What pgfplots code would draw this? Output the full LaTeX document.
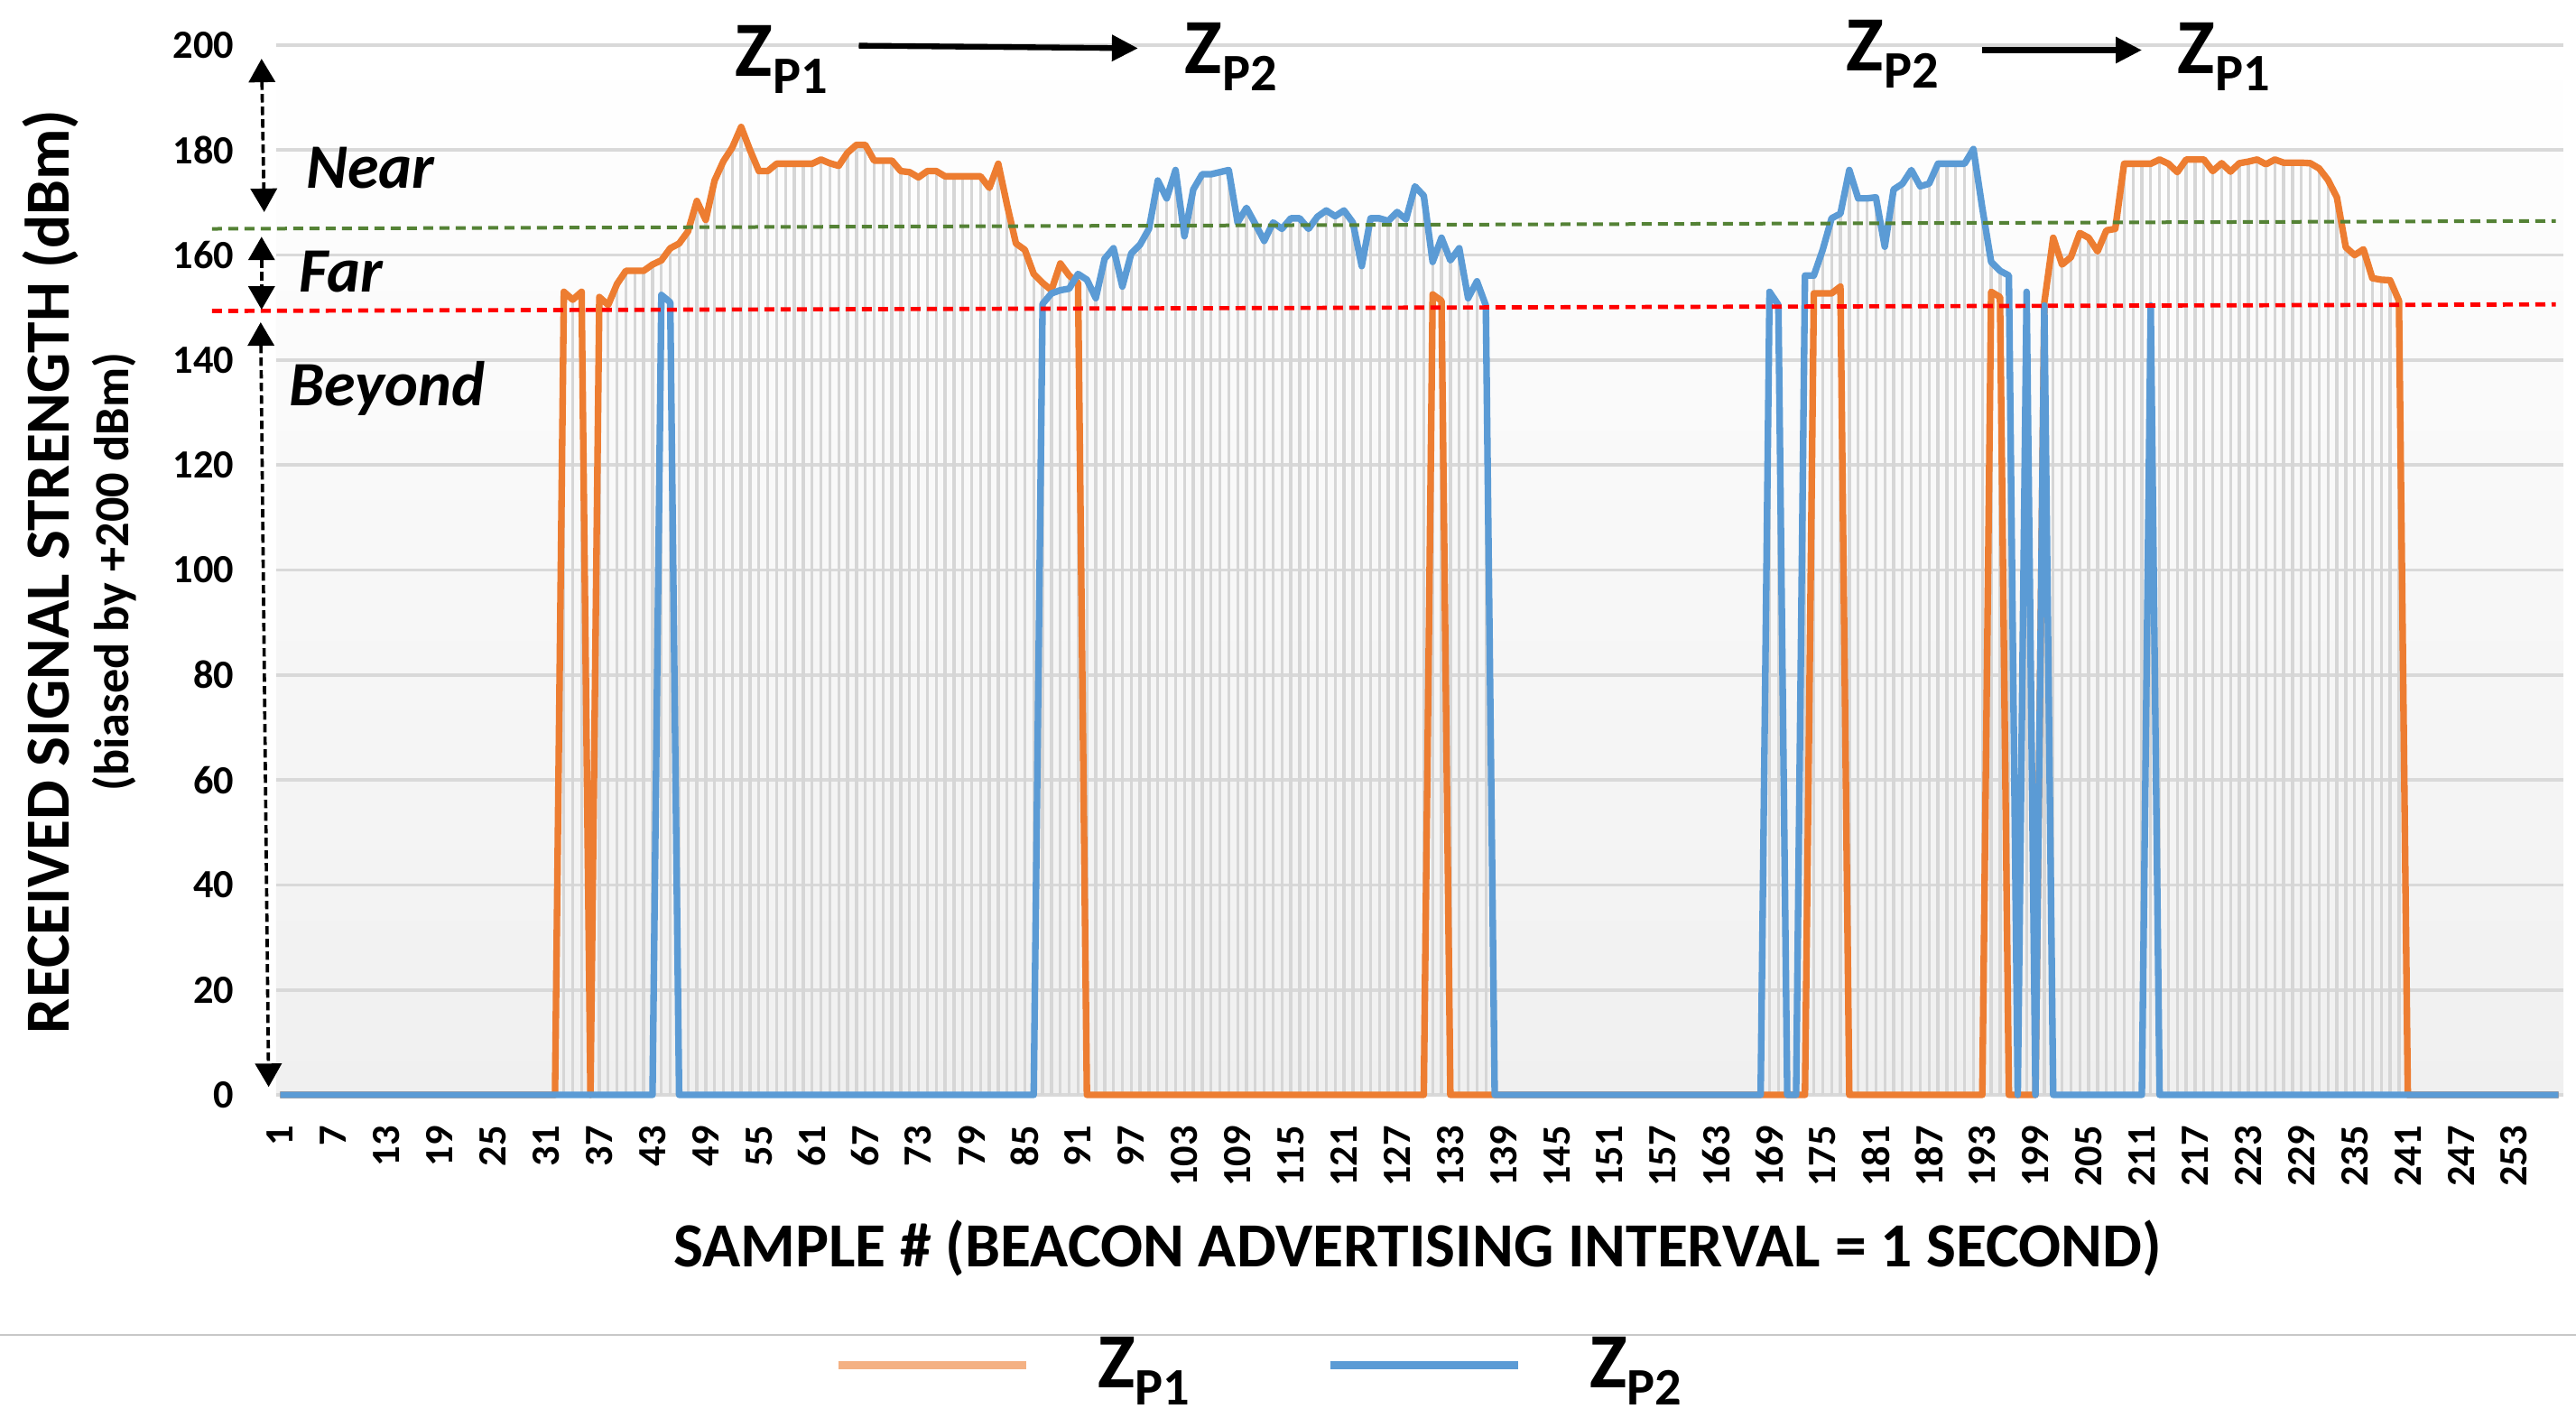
\documentclass[border=0pt]{standalone}
\usepackage{fontspec}
\setmainfont{Carlito}
\usepackage{graphicx}
\usepackage{pgfplots}
\pgfplotsset{compat=1.18}
\usepackage{pgfplotstable}
\usetikzlibrary{arrows.meta}

\definecolor{zorange}{RGB}{237,125,49}
\definecolor{zblue}{RGB}{91,155,213}
\definecolor{legorange}{RGB}{244,177,131}
\definecolor{thgreen}{RGB}{84,130,53}
\definecolor{thred}{RGB}{255,0,0}
\definecolor{gridgray}{RGB}{217,217,217}
\definecolor{dropgray}{RGB}{214,214,214}
\definecolor{bgbot}{RGB}{240,240,240}
\definecolor{sepgray}{RGB}{200,200,200}

\newcommand\ZP[1]{{\fontsize{26bp}{30bp}\selectfont\bfseries Z}\raisebox{-5.7bp}{\fontsize{17.5bp}{20bp}\selectfont\bfseries P#1}}

\pgfplotstableread{
s p1 p2
1 0 0
2 0 0
3 0 0
4 0 0
5 0 0
6 0 0
7 0 0
8 0 0
9 0 0
10 0 0
11 0 0
12 0 0
13 0 0
14 0 0
15 0 0
16 0 0
17 0 0
18 0 0
19 0 0
20 0 0
21 0 0
22 0 0
23 0 0
24 0 0
25 0 0
26 0 0
27 0 0
28 0 0
29 0 0
30 0 0
31 0 0
32 0 0
33 153 0
34 151.5 0
35 153 0
36 0 0
37 152 0
38 150.5 0
39 154.5 0
40 157 0
41 157 0
42 157 0
43 158.2 0
44 159 152.4
45 161.3 151
46 162.2 0
47 164.5 0
48 170.3 0
49 166.7 0
50 174.2 0
51 177.9 0
52 180.5 0
53 184.4 0
54 180 0
55 176 0
56 176 0
57 177.4 0
58 177.4 0
59 177.4 0
60 177.4 0
61 177.4 0
62 178.2 0
63 177.5 0
64 177 0
65 179.5 0
66 181 0
67 181 0
68 178 0
69 178 0
70 178 0
71 176 0
72 175.8 0
73 174.8 0
74 176 0
75 176 0
76 175 0
77 175 0
78 175 0
79 175 0
80 175 0
81 172.8 0
82 177.4 0
83 169.5 0
84 162.2 0
85 161 0
86 156.4 0
87 154.7 150.7
88 153.3 152.7
89 158.4 153.3
90 156.1 153.6
91 154.7 156.4
92 0 155.3
93 0 151.8
94 0 159.3
95 0 161.3
96 0 154
97 0 160.3
98 0 162
99 0 165
100 0 174.2
101 0 170.8
102 0 176.2
103 0 163.6
104 0 172.5
105 0 175.4
106 0 175.4
107 0 175.8
108 0 176.2
109 0 166.2
110 0 169
111 0 165.9
112 0 162.7
113 0 166.2
114 0 165
115 0 167
116 0 167
117 0 165
118 0 167.3
119 0 168.5
120 0 167.4
121 0 168.5
122 0 166.2
123 0 157.9
124 0 167
125 0 167
126 0 166.5
127 0 168.2
128 0 166.8
129 0 173.1
130 0 171.3
131 152.5 158.7
132 151.3 163.3
133 0 159
134 0 161.3
135 0 151.8
136 0 155
137 0 150.4
138 0 0
139 0 0
140 0 0
141 0 0
142 0 0
143 0 0
144 0 0
145 0 0
146 0 0
147 0 0
148 0 0
149 0 0
150 0 0
151 0 0
152 0 0
153 0 0
154 0 0
155 0 0
156 0 0
157 0 0
158 0 0
159 0 0
160 0 0
161 0 0
162 0 0
163 0 0
164 0 0
165 0 0
166 0 0
167 0 0
168 0 0
169 0 153
170 0 150.5
171 0 0
172 0 0
173 0 156.1
174 152.7 156.1
175 152.7 161
176 152.7 167
177 154 167.9
178 0 176.2
179 0 170.8
180 0 170.8
181 0 171
182 0 161.6
183 0 172.5
184 0 173.6
185 0 176.2
186 0 173.1
187 0 173.6
188 0 177.4
189 0 177.4
190 0 177.4
191 0 177.4
192 0 180.2
193 0 169
194 153 158.7
195 152 157
196 0 156.1
197 0 0
198 0 153
199 0 0
200 151 150.4
201 163.3 0
202 158.2 0
203 159.6 0
204 164.2 0
205 163.3 0
206 160.7 0
207 164.7 0
208 165 0
209 177.4 0
210 177.4 0
211 177.4 0
212 177.4 150.4
213 178.2 0
214 177.4 0
215 175.8 0
216 178.2 0
217 178.2 0
218 178.2 0
219 176 0
220 177.5 0
221 175.9 0
222 177.5 0
223 177.8 0
224 178.2 0
225 177.3 0
226 178.2 0
227 177.6 0
228 177.6 0
229 177.6 0
230 177.5 0
231 176.5 0
232 174.3 0
233 171 0
234 161.5 0
235 160 0
236 161.1 0
237 155.6 0
238 155.3 0
239 155.2 0
240 151.3 0
241 0 0
242 0 0
243 0 0
244 0 0
245 0 0
246 0 0
247 0 0
248 0 0
249 0 0
250 0 0
251 0 0
252 0 0
253 0 0
254 0 0
255 0 0
256 0 0
257 0 0
258 0 0
}\rssi

\begin{document}
\begin{tikzpicture}
\begin{axis}[
  scale only axis, width=760.2bp, height=348.9bp,
  xmin=0.55, xmax=258.55, ymin=0, ymax=200,
  clip=false,
  axis line style={draw=none},
  major tick length=0pt,
  ymajorgrids=true,
  grid style={draw=gridgray, line width=1.1bp},
  xtick={1,7,...,253},
  ytick={0,20,...,200},
  /pgf/number format/assume math mode=true,
  tick label style={font=\fontsize{13.3bp}{15bp}\selectfont\bfseries, inner sep=0pt},
  yticklabel style={anchor=east},
  xticklabel style={rotate=90, anchor=east},
  yticklabel shift=13.8bp,
  xticklabel shift=10.1bp,
  axis background/.style={top color=white, bottom color=bgbot},
  legend columns=2,
  legend style={at={(0.2439,-0.2549)}, anchor=west, draw=none, fill=none,
    inner sep=0pt, outer sep=0pt,
    nodes={inner sep=0pt, text depth=0pt, anchor=base west},
    /tikz/every odd column/.append style={column sep=22.5bp},
    /tikz/every even column/.append style={column sep=45.3bp}},
  legend image code/.code={\draw[#1] (0bp,7.5bp) -- (62.4bp,7.5bp);},
]
\addplot[ycomb, draw=dropgray, line width=1bp, forget plot] table[x=s,y=p1]{\rssi};
\addplot[ycomb, draw=dropgray, line width=1bp, forget plot] table[x=s,y=p2]{\rssi};
\addplot[zorange, line width=2.2bp, line join=round, mark=none, forget plot] table[x=s,y=p1]{\rssi};
\addplot[zblue, line width=2.2bp, line join=round, mark=none, forget plot] table[x=s,y=p2]{\rssi};
\addplot[thgreen, line width=1.2bp, dash pattern=on 3.3bp off 2.1bp, forget plot] coordinates {(-6.68,165.0) (257.7,166.5)};
\addplot[thred, line width=1.4bp, dash pattern=on 3.3bp off 2.1bp, forget plot] coordinates {(-6.68,149.35) (257.7,150.6)};

\addlegendimage{legorange, line width=2.7bp}
\addlegendentry{\ZP{1}}
\addlegendimage{zblue, line width=2.7bp}
\addlegendentry{\ZP{2}}

\coordinate (LL) at (rel axis cs:0,0);
\coordinate (UR) at (rel axis cs:1,1);

% axis titles
\node[rotate=90, inner sep=0pt] at (axis cs:-24.95,99.7) {\resizebox{307bp}{!}{\bfseries RECEIVED SIGNAL STRENGTH (dBm)}};
\node[rotate=90, inner sep=0pt] at (axis cs:-17.7,99.6) {\resizebox{145.8bp}{!}{\bfseries (biased by +200 dBm)}};
\node[inner sep=0pt] at (axis cs:129.3,-29.15) {\resizebox{494.7bp}{!}{\bfseries SAMPLE \# (BEACON ADVERTISING INTERVAL = 1 SECOND)}};

% zone labels
\node[inner sep=0pt, font=\fontsize{21bp}{24bp}\selectfont\bfseries\itshape] at (axis cs:11.2,176.6) {Near};
\node[inner sep=0pt, font=\fontsize{21bp}{24bp}\selectfont\bfseries\itshape] at (axis cs:7.84,156.8) {Far};
\node[inner sep=0pt, font=\fontsize{21bp}{24bp}\selectfont\bfseries\itshape] at (axis cs:13.07,134.5) {Beyond};

% zone arrows
\draw[black, line width=1.1bp, dash pattern=on 2.8bp off 1.4bp, {Triangle[length=7.8bp,width=8.7bp]}-{Triangle[length=7.8bp,width=8.7bp]}] (axis cs:-1.1,197.4) -- (axis cs:-0.8,168.2);
\draw[black, line width=1.1bp, dash pattern=on 2.8bp off 1.4bp, {Triangle[length=7.8bp,width=8.7bp]}-{Triangle[length=7.8bp,width=8.7bp]}] (axis cs:-1.1,163.5) -- (axis cs:-1.1,149.6);
\draw[black, line width=1.1bp, dash pattern=on 2.8bp off 1.4bp, {Triangle[length=7.8bp,width=8.7bp]}-{Triangle[length=7.8bp,width=8.7bp]}] (axis cs:-1.2,147.2) -- (axis cs:-0.3,1.5);

% transitions
\node[inner sep=0pt, anchor=base west] at (axis cs:52.27,194.0) {\ZP{1}};
\node[inner sep=0pt, anchor=base west] at (axis cs:102.98,194.5) {\ZP{2}};
\node[inner sep=0pt, anchor=base west] at (axis cs:177.6,195.1) {\ZP{2}};
\node[inner sep=0pt, anchor=base west] at (axis cs:214.97,194.5) {\ZP{1}};
\draw[black, line width=1.9bp, -{Triangle[length=8.7bp,width=8.4bp]}] (axis cs:66.27,199.9) -- (axis cs:97.77,199.4);
\draw[black, line width=1.9bp, -{Triangle[length=8.7bp,width=8.4bp]}] (axis cs:192.97,199.05) -- (axis cs:211.0,199.05);

% separator above legend
\draw[sepgray, line width=0.6bp] (rel axis cs:-0.1208,-0.2287) -- (rel axis cs:1.0055,-0.2287);
\end{axis}
\pgfresetboundingbox
\path ([shift={(-91.8bp,-107.4bp)}]LL) rectangle ([shift={(4.2bp,15bp)}]UR);
\end{tikzpicture}
\end{document}
